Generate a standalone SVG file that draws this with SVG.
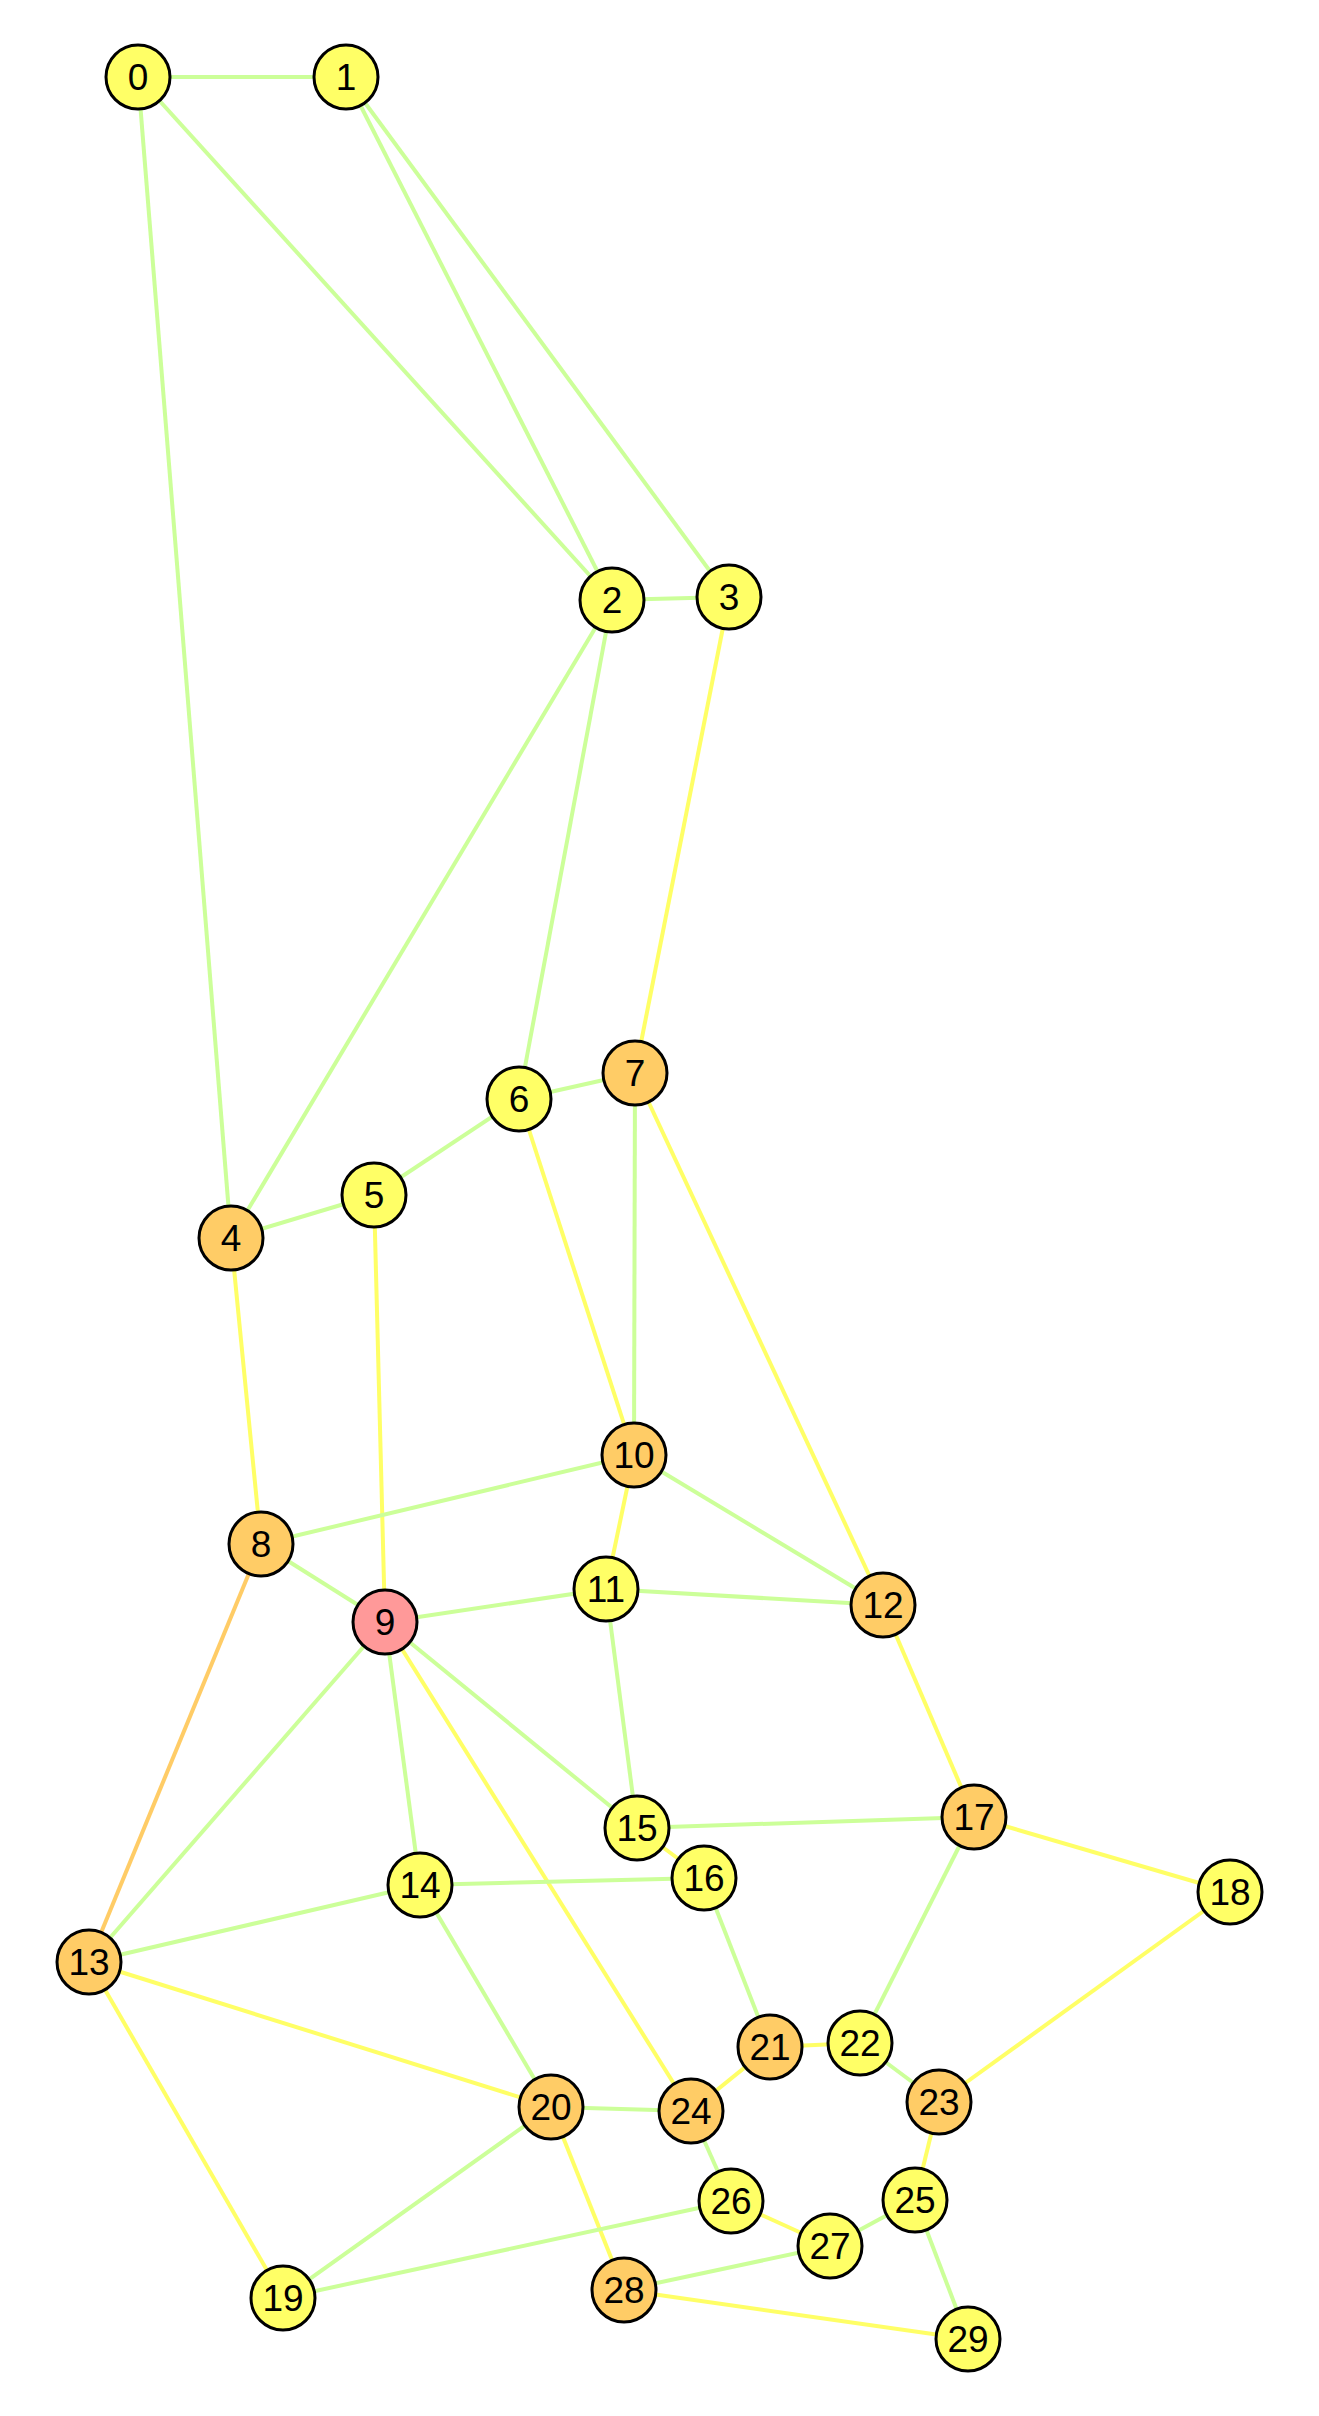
<svg xmlns="http://www.w3.org/2000/svg" width="1319" height="2416" viewBox="0 0 1319 2416">
<style>
.e{stroke-width:4;fill:none}
.g{stroke:#ccff99}
.y{stroke:#ffff66}
.o{stroke:#ffcc66}
.n circle{stroke:#000;stroke-width:3}
.ny circle{fill:#ffff66}
.no circle{fill:#ffcc66}
.np circle{fill:#ff9999}
.n text{font-family:"Liberation Sans",Arial,sans-serif;font-size:37px;text-anchor:middle;fill:#000}
</style>
<rect width="1319" height="2416" fill="#fff"/>
<g id="edges">
<line class="e g" x1="138" y1="77" x2="346" y2="77"/>
<line class="e g" x1="138" y1="77" x2="612" y2="600"/>
<line class="e g" x1="138" y1="77" x2="231" y2="1238"/>
<line class="e g" x1="346" y1="77" x2="612" y2="600"/>
<line class="e g" x1="346" y1="77" x2="729" y2="597"/>
<line class="e g" x1="612" y1="600" x2="729" y2="597"/>
<line class="e g" x1="612" y1="600" x2="231" y2="1238"/>
<line class="e g" x1="612" y1="600" x2="519" y2="1099"/>
<line class="e y" x1="729" y1="597" x2="635" y2="1073"/>
<line class="e g" x1="231" y1="1238" x2="374" y2="1195"/>
<line class="e g" x1="374" y1="1195" x2="519" y2="1099"/>
<line class="e g" x1="519" y1="1099" x2="635" y2="1073"/>
<line class="e y" x1="231" y1="1238" x2="261" y2="1544"/>
<line class="e y" x1="374" y1="1195" x2="385" y2="1622"/>
<line class="e y" x1="519" y1="1099" x2="634" y2="1455"/>
<line class="e g" x1="635" y1="1073" x2="634" y2="1455"/>
<line class="e y" x1="635" y1="1073" x2="883" y2="1605"/>
<line class="e g" x1="261" y1="1544" x2="634" y2="1455"/>
<line class="e g" x1="261" y1="1544" x2="385" y2="1622"/>
<line class="e o" x1="261" y1="1544" x2="89" y2="1962"/>
<line class="e y" x1="634" y1="1455" x2="606" y2="1589"/>
<line class="e g" x1="634" y1="1455" x2="883" y2="1605"/>
<line class="e g" x1="385" y1="1622" x2="606" y2="1589"/>
<line class="e g" x1="606" y1="1589" x2="883" y2="1605"/>
<line class="e g" x1="385" y1="1622" x2="89" y2="1962"/>
<line class="e g" x1="385" y1="1622" x2="420" y2="1885"/>
<line class="e g" x1="385" y1="1622" x2="637" y2="1828"/>
<line class="e y" x1="385" y1="1622" x2="691" y2="2111"/>
<line class="e g" x1="606" y1="1589" x2="637" y2="1828"/>
<line class="e y" x1="883" y1="1605" x2="974" y2="1817"/>
<line class="e g" x1="637" y1="1828" x2="974" y2="1817"/>
<line class="e y" x1="637" y1="1828" x2="704" y2="1878"/>
<line class="e y" x1="974" y1="1817" x2="1230" y2="1892"/>
<line class="e g" x1="974" y1="1817" x2="860" y2="2043"/>
<line class="e g" x1="89" y1="1962" x2="420" y2="1885"/>
<line class="e y" x1="89" y1="1962" x2="551" y2="2107"/>
<line class="e y" x1="89" y1="1962" x2="283" y2="2298"/>
<line class="e g" x1="420" y1="1885" x2="704" y2="1878"/>
<line class="e g" x1="420" y1="1885" x2="551" y2="2107"/>
<line class="e g" x1="704" y1="1878" x2="770" y2="2047"/>
<line class="e y" x1="770" y1="2047" x2="860" y2="2043"/>
<line class="e y" x1="770" y1="2047" x2="691" y2="2111"/>
<line class="e g" x1="860" y1="2043" x2="939" y2="2102"/>
<line class="e y" x1="1230" y1="1892" x2="939" y2="2102"/>
<line class="e g" x1="551" y1="2107" x2="691" y2="2111"/>
<line class="e g" x1="551" y1="2107" x2="283" y2="2298"/>
<line class="e y" x1="551" y1="2107" x2="624" y2="2290"/>
<line class="e y" x1="939" y1="2102" x2="915" y2="2200"/>
<line class="e g" x1="691" y1="2111" x2="731" y2="2201"/>
<line class="e g" x1="283" y1="2298" x2="731" y2="2201"/>
<line class="e y" x1="731" y1="2201" x2="830" y2="2246"/>
<line class="e g" x1="915" y1="2200" x2="830" y2="2246"/>
<line class="e g" x1="915" y1="2200" x2="968" y2="2339"/>
<line class="e g" x1="830" y1="2246" x2="624" y2="2290"/>
<line class="e y" x1="624" y1="2290" x2="968" y2="2339"/>
</g>
<g id="n0" class="n ny"><circle cx="138" cy="77" r="32"/><text x="138" y="90">0</text></g>
<g id="n1" class="n ny"><circle cx="346" cy="77" r="32"/><text x="346" y="90">1</text></g>
<g id="n2" class="n ny"><circle cx="612" cy="600" r="32"/><text x="612" y="613">2</text></g>
<g id="n3" class="n ny"><circle cx="729" cy="597" r="32"/><text x="729" y="610">3</text></g>
<g id="n4" class="n no"><circle cx="231" cy="1238" r="32"/><text x="231" y="1251">4</text></g>
<g id="n5" class="n ny"><circle cx="374" cy="1195" r="32"/><text x="374" y="1208">5</text></g>
<g id="n6" class="n ny"><circle cx="519" cy="1099" r="32"/><text x="519" y="1112">6</text></g>
<g id="n7" class="n no"><circle cx="635" cy="1073" r="32"/><text x="635" y="1086">7</text></g>
<g id="n8" class="n no"><circle cx="261" cy="1544" r="32"/><text x="261" y="1557">8</text></g>
<g id="n9" class="n np"><circle cx="385" cy="1622" r="32"/><text x="385" y="1635">9</text></g>
<g id="n10" class="n no"><circle cx="634" cy="1455" r="32"/><text x="634" y="1468">10</text></g>
<g id="n11" class="n ny"><circle cx="606" cy="1589" r="32"/><text x="606" y="1602">11</text></g>
<g id="n12" class="n no"><circle cx="883" cy="1605" r="32"/><text x="883" y="1618">12</text></g>
<g id="n13" class="n no"><circle cx="89" cy="1962" r="32"/><text x="89" y="1975">13</text></g>
<g id="n14" class="n ny"><circle cx="420" cy="1885" r="32"/><text x="420" y="1898">14</text></g>
<g id="n15" class="n ny"><circle cx="637" cy="1828" r="32"/><text x="637" y="1841">15</text></g>
<g id="n16" class="n ny"><circle cx="704" cy="1878" r="32"/><text x="704" y="1891">16</text></g>
<g id="n17" class="n no"><circle cx="974" cy="1817" r="32"/><text x="974" y="1830">17</text></g>
<g id="n18" class="n ny"><circle cx="1230" cy="1892" r="32"/><text x="1230" y="1905">18</text></g>
<g id="n19" class="n ny"><circle cx="283" cy="2298" r="32"/><text x="283" y="2311">19</text></g>
<g id="n20" class="n no"><circle cx="551" cy="2107" r="32"/><text x="551" y="2120">20</text></g>
<g id="n21" class="n no"><circle cx="770" cy="2047" r="32"/><text x="770" y="2060">21</text></g>
<g id="n22" class="n ny"><circle cx="860" cy="2043" r="32"/><text x="860" y="2056">22</text></g>
<g id="n23" class="n no"><circle cx="939" cy="2102" r="32"/><text x="939" y="2115">23</text></g>
<g id="n24" class="n no"><circle cx="691" cy="2111" r="32"/><text x="691" y="2124">24</text></g>
<g id="n25" class="n ny"><circle cx="915" cy="2200" r="32"/><text x="915" y="2213">25</text></g>
<g id="n26" class="n ny"><circle cx="731" cy="2201" r="32"/><text x="731" y="2214">26</text></g>
<g id="n27" class="n ny"><circle cx="830" cy="2246" r="32"/><text x="830" y="2259">27</text></g>
<g id="n28" class="n no"><circle cx="624" cy="2290" r="32"/><text x="624" y="2303">28</text></g>
<g id="n29" class="n ny"><circle cx="968" cy="2339" r="32"/><text x="968" y="2352">29</text></g>
</svg>
